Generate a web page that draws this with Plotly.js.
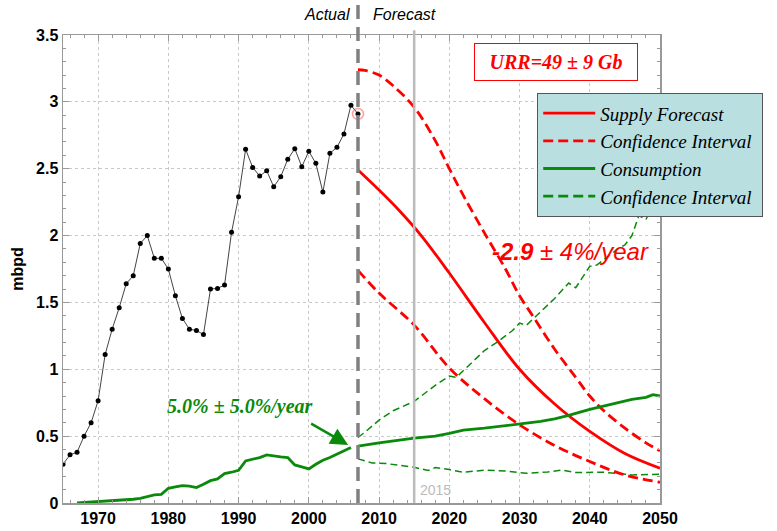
<!DOCTYPE html>
<html>
<head>
<meta charset="utf-8">
<script src="https://cdn.plot.ly/plotly-3.0.1.min.js"></script>
<style>html,body{margin:0;padding:0;background:#fff}#chart{width:777px;height:531px}</style>
</head>
<body>
<div id="chart"></div>
<script>
// Actual production (mbpd)
const actualYears = [1965,1966,1967,1968,1969,1970,1971,1972,1973,1974,1975,1976,1977,1978,1979,1980,1981,1982,1983,1984,1985,1986,1987,1988,1989,1990,1991,1992,1993,1994,1995,1996,1997,1998,1999,2000,2001,2002,2003,2004,2005,2006,2007];
const actualValues = [0.29,0.36,0.38,0.50,0.60,0.765,1.11,1.30,1.46,1.64,1.70,1.94,2.00,1.83,1.83,1.75,1.55,1.38,1.30,1.29,1.26,1.60,1.605,1.63,2.025,2.29,2.645,2.51,2.445,2.485,2.365,2.44,2.57,2.65,2.515,2.63,2.54,2.325,2.615,2.66,2.76,2.975,2.91];

// Historical consumption
const consHistYears = [1967,1968,1969,1970,1971,1972,1973,1974,1975,1976,1977,1978,1979,1980,1981,1982,1983,1984,1985,1986,1987,1988,1989,1990,1991,1992,1993,1994,1995,1996,1997,1998,1999,2000,2001,2002,2003,2004,2005,2006];
const consHistValues = [0.0,0.003,0.006,0.01,0.012,0.015,0.018,0.022,0.028,0.035,0.05,0.06,0.065,0.11,0.12,0.13,0.127,0.115,0.14,0.167,0.18,0.22,0.23,0.245,0.315,0.325,0.34,0.36,0.35,0.345,0.34,0.285,0.27,0.255,0.29,0.32,0.34,0.365,0.39,0.415];

// Supply forecast
const supplyYears = [2007,2010,2013,2016,2020,2025,2030,2035,2040,2045,2050];
const supplyValues = [2.49,2.34,2.18,2.00,1.72,1.35,1.00,0.74,0.535,0.37,0.26];
const supplyHiYears = [2007,2008,2010,2012,2015,2018,2020,2022,2025,2028,2030,2032,2035,2038,2040,2042,2045,2048,2050];
const supplyHiValues = [3.24,3.235,3.20,3.12,2.96,2.71,2.50,2.30,2.02,1.75,1.55,1.39,1.15,0.94,0.80,0.69,0.56,0.45,0.39];
const supplyLoYears = [2007,2010,2015,2020,2025,2030,2035,2040,2045,2050];
const supplyLoValues = [1.74,1.57,1.33,1.01,0.78,0.585,0.43,0.31,0.21,0.155];

// Consumption forecast
const consYears = [2007,2010,2015,2018,2020,2022,2025,2028,2030,2033,2035,2037,2040,2043,2046,2048,2049,2050];
const consValues = [0.425,0.45,0.485,0.50,0.52,0.545,0.56,0.58,0.595,0.61,0.63,0.655,0.70,0.735,0.775,0.79,0.81,0.80];
const consHiYears = [2007,2008,2010,2012,2015,2018,2020,2021,2023,2025,2027,2029,2030,2031,2033,2035,2037,2038,2040,2041,2042,2044,2045,2046,2047,2048,2049,2050];
const consHiValues = [0.49,0.53,0.62,0.69,0.76,0.88,0.95,0.94,1.04,1.14,1.21,1.29,1.345,1.33,1.43,1.53,1.645,1.61,1.77,1.78,1.82,1.90,1.93,2.00,2.15,2.12,2.23,2.20];
const consLoYears = [2007,2009,2011,2013,2015,2017,2018,2020,2022,2025,2028,2031,2034,2036,2038,2042,2046,2050];
const consLoValues = [0.33,0.30,0.295,0.28,0.267,0.243,0.265,0.25,0.23,0.245,0.24,0.222,0.232,0.247,0.228,0.23,0.21,0.215];

const RED = '#ff0000';
const GREEN = '#0a8a0a';

const traces = [
  {x: consHistYears, y: consHistValues, mode:'lines', line:{color:GREEN, width:2.8}, showlegend:false},
  {x: consLoYears, y: consLoValues, mode:'lines', line:{color:GREEN, width:1.5, dash:'7px,4px'}, showlegend:false},
  {x: consHiYears, y: consHiValues, mode:'lines', line:{color:GREEN, width:1.5, dash:'7px,4px'}, showlegend:false},
  {x: supplyLoYears, y: supplyLoValues, mode:'lines', line:{color:RED, width:2.8, dash:'10px,5px', shape:'spline'}, showlegend:false},
  {x: supplyHiYears, y: supplyHiValues, mode:'lines', line:{color:RED, width:2.8, dash:'10px,5px', shape:'spline'}, showlegend:false},
  {x: supplyYears, y: supplyValues, mode:'lines', line:{color:RED, width:2.8, shape:'spline'}, showlegend:false},
  {x: consYears, y: consValues, mode:'lines', line:{color:GREEN, width:2.8}, showlegend:false},
  {x: actualYears, y: actualValues, mode:'lines+markers', line:{color:'#444', width:1}, marker:{color:'#000', size:5}, showlegend:false},
  {x: [actualYears[actualYears.length-1]], y: [actualValues[actualValues.length-1]], mode:'markers', marker:{symbol:'circle-open', color:'rgba(255,90,90,0.6)', size:11, line:{width:1.5}}, showlegend:false},
  // legend entries
  {x:[null], y:[null], mode:'lines', name:'Supply Forecast', line:{color:RED, width:2.8}},
  {x:[null], y:[null], mode:'lines', name:'Confidence Interval', line:{color:RED, width:2.8, dash:'10px,5px'}},
  {x:[null], y:[null], mode:'lines', name:'Consumption', line:{color:GREEN, width:2.8}},
  {x:[null], y:[null], mode:'lines', name:'Confidence Interval ', line:{color:GREEN, width:2.8, dash:'10px,5px'}}
];

const axisCommon = {
  showline:true, linecolor:'#999', linewidth:1.5, mirror:'ticks',
  ticks:'inside', ticklen:6, tickcolor:'#999', tickwidth:1,
  showgrid:true, gridcolor:'#c8c8c8', griddash:'dot', gridwidth:1,
  zeroline:false,
  tickfont:{family:'Liberation Sans, Arial', size:16, color:'#000', weight:'bold'}
};

const layout = {
  width:777, height:531,
  margin:{l:63, r:117, t:35, b:28},
  paper_bgcolor:'#fff', plot_bgcolor:'#fff',
  xaxis: Object.assign({}, axisCommon, {range:[1965,2050], dtick:10, tick0:1970,
    minor:{dtick:2, tick0:1966, ticks:'inside', ticklen:3, tickcolor:'#999', showgrid:false}}),
  yaxis: Object.assign({}, axisCommon, {range:[0,3.5], dtick:0.5,
    minor:{dtick:0.1, ticks:'inside', ticklen:3, tickcolor:'#999', showgrid:false},
    title:{text:'mbpd', font:{family:'Liberation Sans, Arial', size:16, color:'#000', weight:'bold'}, standoff:8}}),
  legend:{x:0.794, y:0.876, xanchor:'left', yanchor:'top', bgcolor:'#b9dfe1', bordercolor:'#555', borderwidth:1.2,
    font:{family:'Liberation Serif, Times New Roman', size:19, color:'#000', style:'italic'}, itemwidth:52, tracegroupgap:0},
  shapes:[
    {type:'line', xref:'x', yref:'paper', x0:2015, x1:2015, y0:0, y1:1.01, line:{color:'#bbb', width:2.5}, layer:'above'},
    {type:'line', xref:'x', yref:'paper', x0:2007, x1:2007, y0:0, y1:1.064, line:{color:'#808080', width:3.5, dash:'14px,8px'}, layer:'above'}
  ],
  annotations:[
    {xref:'x', yref:'paper', x:2006.1, y:1.043, xanchor:'right', yanchor:'middle', showarrow:false, text:'<i>Actual</i>', font:{family:'Liberation Sans, Arial', size:16, color:'#000'}},
    {xref:'x', yref:'paper', x:2008.8, y:1.043, xanchor:'left', yanchor:'middle', showarrow:false, text:'<i>Forecast</i>', font:{family:'Liberation Sans, Arial', size:16, color:'#000'}},
    {xref:'x', yref:'y', x:2035.2, y:3.3, xanchor:'center', yanchor:'middle', showarrow:false, text:'<b><i>URR=49 ± 9 Gb</i></b>', font:{family:'Liberation Serif, Times New Roman', size:20, color:RED}, bordercolor:RED, borderwidth:1, borderpad:7, bgcolor:'#fff', width:148},
    {xref:'x', yref:'y', x:2037.3, y:1.88, xanchor:'center', yanchor:'middle', showarrow:false, text:'<i><b>-2.9</b> ± 4%/year</i>', font:{family:'Liberation Sans, Arial', size:24, color:RED}},
    {xref:'x', yref:'y', x:1990.2, y:0.725, xanchor:'center', yanchor:'middle', showarrow:false, text:'<b><i>5.0% ± 5.0%/year</i></b>', font:{family:'Liberation Serif, Times New Roman', size:20, color:GREEN}},
    {xref:'x', yref:'y', x:2005.6, y:0.434, ax:-40, ay:-23, axref:'pixel', ayref:'pixel', showarrow:true, text:' ', arrowcolor:GREEN, arrowwidth:2.5, arrowhead:2, arrowsize:1.4},
    {xref:'x', yref:'y', x:2015.5, y:0.025, xanchor:'left', yanchor:'bottom', showarrow:false, text:'2015', font:{family:'Liberation Sans, Arial', size:14, color:'#bbb'}}
  ]
};

Plotly.newPlot('chart', traces, layout, {displayModeBar:false, staticPlot:true});
</script>
</body>
</html>
